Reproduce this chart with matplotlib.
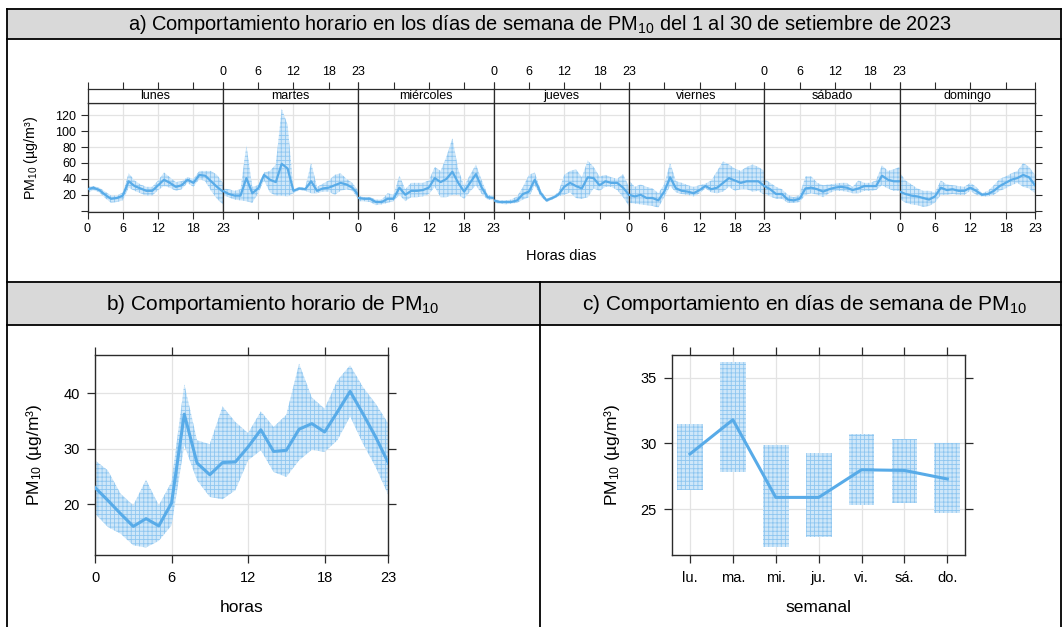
import matplotlib.pyplot as plt
from matplotlib.lines import Line2D
from matplotlib.patches import Rectangle

plt.rcParams['font.family'] = ['Liberation Sans', 'DejaVu Sans']
plt.rcParams['mathtext.default'] = 'regular'
plt.rcParams['hatch.linewidth'] = 0.6

# datos
horas = list(range(24))
dias = ['lunes', 'martes', 'miércoles', 'jueves', 'viernes', 'sábado', 'domingo']

media_lunes = [27, 29, 26, 20, 15, 16, 19, 37, 31, 28, 25, 25, 32, 39, 35, 30, 32, 39, 35, 45, 44, 37, 30, 24]
inf_lunes = [22, 26, 23, 16, 10, 11, 13, 29, 25, 22, 19, 19, 26, 31, 29, 25, 27, 35, 30, 40, 37, 25, 15, 8]
sup_lunes = [30, 31, 29, 24, 19, 19, 23, 47, 38, 33, 30, 30, 38, 48, 42, 36, 37, 42, 40, 50, 50, 50, 45, 35]

media_martes = [25, 21, 19, 19, 41, 22, 28, 45, 39, 36, 59, 53, 25, 28, 27, 37, 25, 28, 29, 32, 35, 33, 29, 20]
inf_martes = [20, 17, 14, 13, 12, 10, 22, 38, 23, 19, 19, 18, 22, 26, 25, 22, 22, 24, 24, 20, 25, 27, 25, 15]
sup_martes = [28, 27, 25, 27, 82, 30, 32, 48, 50, 58, 128, 108, 27, 30, 29, 60, 30, 34, 38, 45, 47, 40, 35, 25]

media_miercoles = [16, 15, 15, 11, 11, 15, 15, 29, 20, 25, 25, 26, 29, 41, 36, 40, 49, 35, 24, 35, 46, 29, 17, 16]
inf_miercoles = [12, 12, 11, 7, 8, 10, 12, 20, 12, 17, 17, 18, 21, 30, 17, 17, 20, 20, 15, 24, 32, 21, 14, 13]
sup_miercoles = [19, 17, 17, 14, 14, 22, 20, 44, 27, 35, 35, 35, 38, 55, 50, 68, 91, 52, 31, 45, 58, 38, 20, 19]

media_jueves = [13, 11, 11, 11, 13, 21, 24, 39, 22, 13, 16, 20, 30, 35, 31, 28, 42, 41, 32, 37, 35, 35, 29, 20]
inf_jueves = [10, 9, 8, 9, 10, 14, 17, 32, 18, 11, 14, 18, 20, 23, 16, 15, 17, 28, 25, 30, 30, 26, 17, 6]
sup_jueves = [15, 13, 13, 14, 18, 30, 45, 48, 26, 15, 18, 23, 45, 50, 52, 42, 63, 55, 43, 45, 42, 40, 46, 30]

media_viernes = [20, 18, 20, 16, 16, 13, 24, 42, 28, 25, 24, 22, 26, 31, 27, 29, 35, 41, 38, 35, 37, 37, 37, 31]
inf_viernes = [10, 9, 8, 7, 6, 4, 17, 31, 23, 21, 20, 18, 22, 28, 23, 22, 24, 30, 25, 27, 27, 24, 25, 20]
sup_viernes = [38, 30, 33, 30, 28, 22, 33, 60, 37, 35, 32, 30, 32, 34, 38, 50, 62, 58, 53, 50, 55, 58, 55, 50]

media_sabado = [31, 27, 21, 21, 14, 13, 15, 28, 29, 27, 24, 27, 29, 30, 29, 26, 28, 31, 31, 31, 44, 39, 37, 37]
inf_sabado = [22, 18, 15, 15, 10, 10, 11, 20, 22, 20, 17, 22, 25, 25, 24, 22, 22, 25, 25, 26, 32, 28, 25, 25]
sup_sabado = [40, 35, 30, 27, 20, 17, 20, 43, 43, 35, 32, 33, 34, 35, 35, 30, 38, 35, 35, 38, 57, 50, 52, 55]

media_domingo = [24, 21, 19, 18, 16, 14, 18, 29, 26, 27, 25, 25, 29, 25, 20, 21, 25, 31, 35, 39, 41, 45, 42, 32]
inf_domingo = [15, 10, 8, 7, 5, 6, 10, 20, 20, 21, 20, 20, 25, 20, 18, 18, 20, 25, 28, 32, 35, 30, 28, 22]
sup_domingo = [48, 38, 33, 28, 25, 25, 23, 38, 33, 32, 31, 30, 35, 30, 22, 25, 32, 40, 43, 47, 50, 60, 55, 45]

media_dias = [media_lunes, media_martes, media_miercoles, media_jueves, media_viernes, media_sabado, media_domingo]
inf_dias = [inf_lunes, inf_martes, inf_miercoles, inf_jueves, inf_viernes, inf_sabado, inf_domingo]
sup_dias = [sup_lunes, sup_martes, sup_miercoles, sup_jueves, sup_viernes, sup_sabado, sup_domingo]

# comportamiento horario
media_hora = [23.0, 20.7, 18.3, 16.0, 17.4, 16.1, 20.2, 36.2, 27.4, 25.3, 27.5, 27.6,
              30.3, 33.4, 29.5, 29.7, 33.5, 34.5, 33.0, 36.6, 40.3, 36.3, 32.1, 27.4]
inf_hora = [18.3, 15.9, 14.7, 12.6, 12.2, 13.4, 16.2, 30.6, 24.3, 21.3, 20.9, 22.5,
            27.9, 29.7, 25.8, 24.9, 27.9, 29.8, 29.4, 31.5, 35.8, 30.9, 26.7, 21.6]
sup_hora = [27.9, 26.1, 21.9, 19.8, 24.4, 19.8, 24.0, 41.6, 31.5, 30.8, 37.6, 34.8,
            32.8, 36.7, 33.9, 36.1, 45.3, 39.2, 37.2, 42.3, 45.0, 41.1, 38.1, 34.5]

# comportamiento semanal
dias_cortos = ['lu.', 'ma.', 'mi.', 'ju.', 'vi.', 'sá.', 'do.']
media_semana = [29.2, 31.8, 25.9, 25.9, 28.0, 27.95, 27.3]
inf_semana = [26.5, 27.8, 22.1, 22.9, 25.3, 25.45, 24.7]
sup_semana = [31.46, 36.2, 29.9, 29.27, 30.7, 30.33, 30.03]

azul = '#58ABE8'
relleno = '#CFE7F9'
trama = '#8EC6F0'
rejilla = '#E3E3E3'
borde = '#2B2B2B'
etiqueta_pm = 'PM$_{10}$ (µg/m³)'

W, H = 1062, 627
fig = plt.figure(figsize=(W / 100, H / 100), dpi=100)


def caja(x0, y0, x1, y1):
    # pixeles (origen arriba-izquierda) -> fraccion de figura
    return [x0 / W, 1 - y1 / H, (x1 - x0) / W, (y1 - y0) / H]


def linea(x0, y0, x1, y1):
    fig.add_artist(Line2D([x0 / W, x1 / W], [1 - y0 / H, 1 - y1 / H],
                          transform=fig.transFigure, color='black', lw=1.3))


# marco tipo tabla
fig.add_artist(Rectangle((7 / W, 1 - 38.5 / H), (1061 - 7) / W, 30 / H,
                         transform=fig.transFigure, facecolor='#D9D9D9', edgecolor='none'))
fig.add_artist(Rectangle((7 / W, 1 - 325 / H), (1061 - 7) / W, 42.5 / H,
                         transform=fig.transFigure, facecolor='#D9D9D9', edgecolor='none'))
linea(7, 8.5, 1061, 8.5)
linea(7, 38.5, 1061, 38.5)
linea(7, 282.5, 1061, 282.5)
linea(7, 325, 1061, 325)
linea(7, 8.5, 7, 627)
linea(1061, 8.5, 1061, 627)
linea(540, 282.5, 540, 627)

fig.text(540 / W, 1 - 24 / H,
         'a) Comportamiento horario en los días de semana de PM$_{10}$ del 1 al 30 de setiembre de 2023',
         ha='center', va='center', fontsize=14.4)
fig.text(273 / W, 1 - 304 / H, 'b) Comportamiento horario de PM$_{10}$',
         ha='center', va='center', fontsize=15)
fig.text(804 / W, 1 - 304 / H, 'c) Comportamiento en días de semana de PM$_{10}$',
         ha='center', va='center', fontsize=15)

# a) paneles por dia
x_ini = 87.5
ancho = (1035 - 87.5) / 7
for i, dia in enumerate(dias):
    xa = x_ini + i * ancho
    xb = xa + ancho
    ax = fig.add_axes(caja(xa, 103.3, xb, 212))
    ax.fill_between(horas, inf_dias[i], sup_dias[i], facecolor=relleno,
                    edgecolor=trama, hatch='++++', lw=0, zorder=2)
    ax.plot(horas, media_dias[i], color=azul, lw=1.6, zorder=3)
    ax.set_xlim(0, 23)
    ax.set_ylim(-1.6, 135)
    ax.set_xticks([0, 6, 12, 18, 23])
    ax.set_yticks([0, 20, 40, 60, 80, 100, 120])
    ax.set_yticklabels(['', '20', '40', '60', '80', '100', '120'])
    ax.grid(color=rejilla, lw=0.9, zorder=0)
    for s in ax.spines.values():
        s.set_color(borde)
        s.set_linewidth(0.9)
    ax.tick_params(direction='out', length=5, width=0.8, color=borde,
                   labelsize=9, pad=3,
                   labelbottom=(i % 2 == 0),
                   left=(i == 0), labelleft=(i == 0),
                   right=(i == 6), labelright=False)

    tira = fig.add_axes(caja(xa, 88.7, xb, 103.3))
    tira.set_xlim(0, 23)
    tira.set_ylim(0, 1)
    tira.set_yticks([])
    tira.set_xticks([0, 6, 12, 18, 23])
    tira.xaxis.tick_top()
    tira.tick_params(axis='x', direction='out', length=5, width=0.8, color=borde,
                     labelsize=9, pad=3, labeltop=(i % 2 == 1))
    for s in tira.spines.values():
        s.set_color(borde)
        s.set_linewidth(0.9)
    tira.text(11.5, 0.5, dia, ha='center', va='center', fontsize=9)

fig.text(31 / W, 1 - 157.5 / H, etiqueta_pm, rotation=90, ha='center', va='center', fontsize=10.3)
fig.text(561 / W, 1 - 256 / H, 'Horas dias', ha='center', va='center', fontsize=10.5)

# b) horario
axb = fig.add_axes(caja(95, 355.3, 388.4, 555.3))
axb.fill_between(horas, inf_hora, sup_hora, facecolor=relleno, edgecolor=trama,
                 hatch='++++', lw=0, zorder=2)
axb.plot(horas, media_hora, color=azul, lw=2.2, zorder=3)
axb.set_xlim(0, 23)
axb.set_ylim(10.8, 46.8)
axb.set_xticks([0, 6, 12, 18, 23])
axb.set_yticks([20, 30, 40])
axb.grid(color=rejilla, lw=0.9, zorder=0)
axb.tick_params(direction='out', length=6, width=0.9, color=borde, labelsize=10.5,
                pad=5, top=True, right=True)
for s in axb.spines.values():
    s.set_color(borde)
    s.set_linewidth(1.0)
fig.text(34 / W, 1 - 455 / H, etiqueta_pm, rotation=90, ha='center', va='center', fontsize=12.5)
fig.text(241.7 / W, 1 - 607 / H, 'horas', ha='center', va='center', fontsize=12.5)

# c) semanal
posiciones = list(range(1, 8))
axc = fig.add_axes(caja(672, 355.3, 965.3, 555.3))
alturas = [s - b for s, b in zip(sup_semana, inf_semana)]
axc.bar(posiciones, alturas, bottom=inf_semana, width=0.6, facecolor=relleno,
        edgecolor=trama, hatch='++++', lw=0, zorder=2)
axc.plot(posiciones, media_semana, color=azul, lw=2.2, zorder=3)
axc.set_xlim(0.58, 7.42)
axc.set_ylim(21.5, 36.7)
axc.set_xticks(posiciones)
axc.set_xticklabels(dias_cortos)
axc.set_yticks([25, 30, 35])
axc.grid(color=rejilla, lw=0.9, zorder=0)
axc.tick_params(direction='out', length=6, width=0.9, color=borde, labelsize=10.5,
                pad=5, top=True, right=True)
for s in axc.spines.values():
    s.set_color(borde)
    s.set_linewidth(1.0)
fig.text(612 / W, 1 - 455 / H, etiqueta_pm, rotation=90, ha='center', va='center', fontsize=12.5)
fig.text(818.7 / W, 1 - 607 / H, 'semanal', ha='center', va='center', fontsize=12.5)

fig.savefig('out.png', dpi=100)
